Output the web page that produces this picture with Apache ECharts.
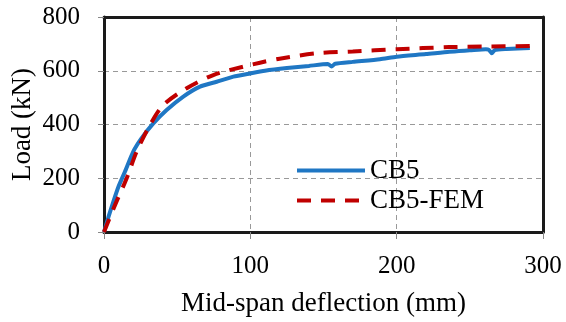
<!DOCTYPE html>
<html>
<head>
<meta charset="utf-8">
<script src="https://cdn.jsdelivr.net/npm/echarts@6/dist/echarts.min.js"></script>
<style>
  html, body { margin: 0; padding: 0; background: #fff; }
  #main { width: 566px; height: 322px; }
</style>
</head>
<body>
<div id="main"></div>
<script>
// CB5 (test) - mid-span deflection (mm) / load (kN)
var testDefl = [0, 3, 6.4, 10, 14.3, 20, 25.7, 33.7, 42.8, 54.2, 65.6, 77, 88.4, 99.8, 110, 125, 140, 153, 155.5, 158, 170, 188.6, 200, 220, 236, 250, 261, 263, 265, 267, 275, 291];
var testLoad = [0, 55, 113, 170, 224, 299, 349, 404, 454, 504, 541, 559, 578, 590, 600, 610, 618, 625, 616, 626, 633, 643, 652, 662, 671, 676, 680, 678, 665, 677, 681, 685];
// CB5-FEM
var femDefl = [0, 7.5, 15.5, 22.3, 31.4, 40.5, 56.5, 74.7, 95, 106.6, 120, 145.4, 170, 200, 236, 260, 291];
var femLoad = [0, 100, 200, 299, 398, 472, 535, 584, 615, 630, 645, 665, 672, 680, 688, 690, 692];

var xTicks = [0, 100, 200, 300];
var yTicks = [0, 200, 400, 600, 800];

function pairs(xs, ys) {
  var out = [];
  for (var i = 0; i < xs.length; i++) out.push([xs[i], ys[i]]);
  return out;
}

// thick black frame line used on all four sides
function frame() {
  return { show: true, onZero: false, lineStyle: { color: '#1a1a1a', width: 3 } };
}

var myChart = echarts.init(document.getElementById('main'));
var font = 'Liberation Serif';

var option = {
  animation: false,
  textStyle: { fontFamily: font },
  grid: {
    left: 104, right: 23, top: 17, bottom: 90,
    outerBoundsMode: 'none'
  },
  legend: {
    orient: 'vertical',
    left: 290,
    top: 152,
    itemWidth: 68,
    itemHeight: 14,
    itemGap: 3,
    itemStyle: { opacity: 0 },
    lineStyle: { width: 4 },
    textStyle: { fontFamily: font, fontSize: 27, color: '#000' },
    data: ['CB5', 'CB5-FEM']
  },
  xAxis: [{
    type: 'value',
    position: 'bottom',
    min: xTicks[0],
    max: xTicks[xTicks.length - 1],
    interval: 100,
    name: 'Mid-span deflection (mm)',
    nameLocation: 'middle',
    nameGap: 58,
    nameMoveOverlap: false,
    nameTextStyle: { fontFamily: font, fontSize: 27, color: '#000' },
    axisLine: frame(),
    axisTick: { show: true, length: 7, lineStyle: { color: '#888' } },
    axisLabel: { margin: 22, fontFamily: font, fontSize: 25, color: '#000' },
    splitLine: { show: true, lineStyle: { color: '#999', type: [5, 4], width: 1 } }
  }, {
    type: 'value',
    position: 'top',
    min: xTicks[0],
    max: xTicks[xTicks.length - 1],
    interval: 100,
    axisLine: frame(),
    axisTick: { show: false },
    axisLabel: { show: false },
    splitLine: { show: false }
  }],
  yAxis: [{
    type: 'value',
    position: 'left',
    min: yTicks[0],
    max: yTicks[yTicks.length - 1],
    interval: 200,
    name: 'Load (kN)',
    nameLocation: 'middle',
    nameRotate: 90,
    nameGap: 68,
    nameMoveOverlap: false,
    nameTextStyle: { fontFamily: font, fontSize: 27, color: '#000' },
    axisLine: frame(),
    axisTick: { show: true, length: 6, lineStyle: { color: '#888' } },
    axisLabel: { margin: 24, fontFamily: font, fontSize: 25, color: '#000' },
    splitLine: { show: true, lineStyle: { color: '#999', type: [5, 4], width: 1 } }
  }, {
    type: 'value',
    position: 'right',
    min: yTicks[0],
    max: yTicks[yTicks.length - 1],
    interval: 200,
    axisLine: frame(),
    axisTick: { show: false },
    axisLabel: { show: false },
    splitLine: { show: false }
  }],
  series: [
    {
      name: 'CB5',
      type: 'line',
      data: pairs(testDefl, testLoad),
      symbol: 'none',
      smooth: 0.2,
      z: 3,
      lineStyle: { color: '#1f77c4', width: 4 },
      itemStyle: { color: '#1f77c4' }
    },
    {
      name: 'CB5-FEM',
      type: 'line',
      data: pairs(femDefl, femLoad),
      symbol: 'none',
      smooth: 0.3,
      z: 4,
      lineStyle: { color: '#c00000', width: 4, type: [14, 10] },
      itemStyle: { color: '#c00000' }
    }
  ]
};

myChart.setOption(option);
</script>
</body>
</html>
